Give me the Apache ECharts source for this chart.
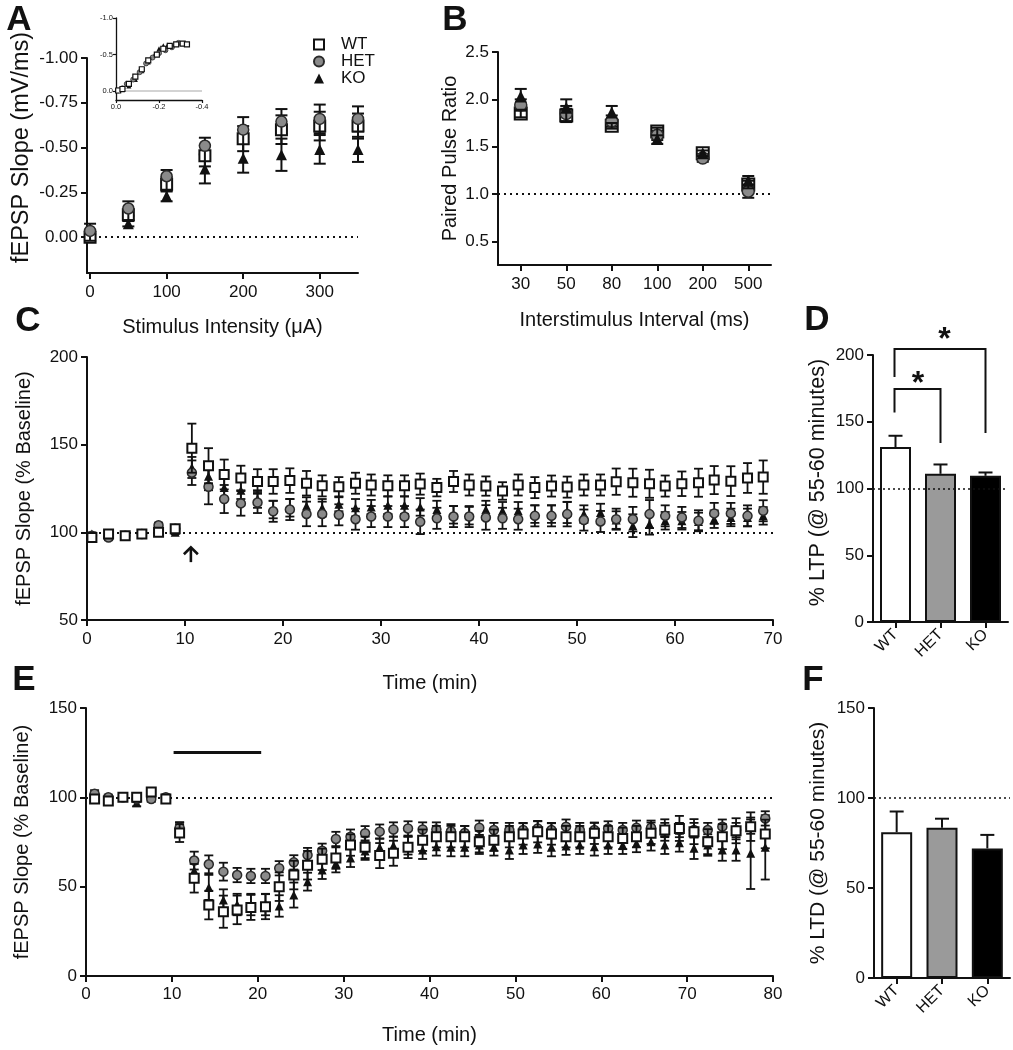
<!DOCTYPE html>
<html><head><meta charset="utf-8">
<script src="https://cdn.jsdelivr.net/npm/echarts@6/dist/echarts.min.js"></script>
<style>html,body{margin:0;padding:0;background:#fff}#c{width:1013px;height:1050px}</style>
</head><body><div id="c"></div>
<script>
// ---------- Panel A: input-output ----------
const stimA = [0, 50, 100, 150, 200, 250, 300, 350];
const wtA = [0.00, -0.125, -0.295, -0.455, -0.55, -0.60, -0.62, -0.62];
const wtAsem = [0.02, 0.03, 0.04, 0.06, 0.07, 0.08, 0.08, 0.07];
const hetA = [-0.035, -0.16, -0.34, -0.51, -0.60, -0.645, -0.66, -0.66];
const hetAsem = [0.04, 0.04, 0.035, 0.045, 0.07, 0.07, 0.08, 0.07];
const koA = [0.0, -0.075, -0.23, -0.38, -0.44, -0.46, -0.49, -0.49];
const koAsem = [0.02, 0.015, 0.03, 0.08, 0.08, 0.09, 0.08, 0.07];
const yTicksA = [-1.00, -0.75, -0.50, -0.25, 0.00];
const xTicksA = [0, 100, 200, 300];
// inset (fibre volley vs fEPSP slope)
const insetWtX = [-0.01, -0.03, -0.06, -0.09, -0.12, -0.15, -0.19, -0.22, -0.25, -0.28, -0.31, -0.33];
const insetWtY = [-0.01, -0.03, -0.10, -0.20, -0.30, -0.42, -0.50, -0.58, -0.62, -0.64, -0.65, -0.64];
const insetHetX = [-0.01, -0.03, -0.05, -0.08, -0.11, -0.14, -0.17, -0.20, -0.23, -0.26, -0.29];
const insetHetY = [-0.01, -0.04, -0.10, -0.16, -0.26, -0.38, -0.46, -0.52, -0.56, -0.60, -0.66];
const insetKoX = [-0.01, -0.03, -0.06, -0.09, -0.12, -0.15, -0.18, -0.20, -0.22, -0.24];
const insetKoY = [-0.01, -0.02, -0.07, -0.16, -0.28, -0.40, -0.50, -0.58, -0.62, -0.63];
const insetXTicks = [0, -0.2, -0.4];
const insetYTicks = [-1.0, -0.5, 0.0];

// ---------- Panel B: paired pulse ratio ----------
const isiB = ['30', '50', '80', '100', '200', '500'];
const wtB = [1.85, 1.83, 1.72, 1.66, 1.43, 1.10];
const wtBsem = [0.04, 0.07, 0.03, 0.04, 0.03, 0.04];
const hetB = [1.94, 1.85, 1.77, 1.62, 1.38, 1.03];
const hetBsem = [0.06, 0.08, 0.06, 0.05, 0.04, 0.07];
const koB = [2.03, 1.91, 1.86, 1.58, 1.43, 1.14];
const koBsem = [0.08, 0.09, 0.07, 0.05, 0.03, 0.05];
const yTicksB = [0.5, 1.0, 1.5, 2.0, 2.5];

// ---------- Panel C: LTP time course ----------
const tC = [0.5, 2.2, 3.9, 5.6, 7.3, 9.0, 10.7, 12.4, 14.0, 15.7, 17.4, 19.0, 20.7, 22.4, 24.0, 25.7, 27.4, 29.0,
  30.7, 32.4, 34.0, 35.7, 37.4, 39.0, 40.7, 42.4, 44.0, 45.7, 47.4, 49.0, 50.7, 52.4, 54.0, 55.7, 57.4, 59.0,
  60.7, 62.4, 64.0, 65.7, 67.4, 69.0];
const wtC = [97, 99, 98, 99, 100, 102, 148, 138, 133, 131, 129, 129, 129.5, 128, 126.5, 126, 128, 127,
  126.5, 126.5, 127.5, 125.5, 129, 127, 126.4, 123.6, 127, 125.5, 126.4, 125.8, 127, 127, 128.9, 128.3, 127.7, 126.4,
  127.7, 128.3, 129.8, 129.2, 131, 131.5];
const wtCsem = [1.5, 1, 1, 1, 1.5, 1.5, 14, 10, 8.5, 7, 7, 7, 7, 7, 6, 5.5, 6, 6,
  6, 6, 6, 5, 6, 6, 5.5, 5, 6, 6, 6, 6, 6, 6, 7.5, 8, 8, 6,
  7, 8, 8, 8.5, 8.5, 9.5];
const hetC = [98, 97, 98, 99, 104, 102, 134, 126, 119, 116.5, 117, 112, 113, 110.5, 110.5, 110, 107.5, 109,
  109, 109, 106, 108, 109, 109, 108.5, 108, 107.5, 109.4, 109.4, 110.4, 107, 106.2, 107.5, 107.5, 110.4, 109.4,
  108.5, 106.6, 110.8, 110.8, 109.4, 112.3];
const hetCsem = [1, 1.5, 1, 1, 1.5, 1, 7, 10, 8, 7, 6, 6, 6, 7, 7, 6, 6, 6,
  6, 6, 7, 6, 6, 6, 7, 6, 6, 6, 6, 7, 6, 6, 6, 7, 8, 6,
  6, 6, 6, 6, 6, 6];
const koC = [99, 99, 98, 99, 100, 100, 137, 132, 125.5, 124, 119, 113, 114, 115, 114, 116, 114, 114.5,
  115.5, 115.5, 114.5, 113, 110, 109.5, 113, 112.3, 112.3, 110.4, 110.4, 111.3, 110.4, 111.3, 107, 103.8, 104.7, 106.6,
  106.6, 106.2, 107.5, 108.5, 108.5, 109.4];
const koCsem = [1, 1, 1, 1, 1, 1, 6, 8, 6, 5, 5, 5, 5, 5, 5, 4, 5, 4,
  5, 5, 5, 5, 5, 5, 5, 5, 5, 5, 5, 6, 5, 5, 5, 6.5, 6, 5,
  5, 5, 5, 5, 5, 5];
const arrowC = [[10.6, 83, 91.5]]; // tetanus arrow: time, tail, tip

// ---------- Panel D: % LTP ----------
const genotypes = ['WT', 'HET', 'KO'];
const ltpD = [131, 111, 109.5];
const ltpDsem = [8.5, 7, 2.5];
// significance brackets: [cat1, cat2, leftLegEnd, top, rightLegEnd, starY]
const sigBrackets = [[0, 1, 157, 174.5, 134, 178], [0, 2, 183.5, 204.5, 141.6, 211]];

// ---------- Panel E: LTD time course ----------
const tE = [1.0, 2.6, 4.3, 5.9, 7.6, 9.3, 10.9, 12.6, 14.3, 16.0, 17.6, 19.2, 20.9, 22.5, 24.2, 25.8, 27.5, 29.1,
  30.8, 32.5, 34.2, 35.8, 37.5, 39.2, 40.8, 42.5, 44.1, 45.8, 47.5, 49.3, 50.9, 52.6, 54.2, 55.9, 57.5, 59.2,
  60.8, 62.5, 64.1, 65.8, 67.4, 69.1, 70.8, 72.4, 74.1, 75.7, 77.4, 79.1];
const wtE = [99, 98, 100, 100, 103, 99, 80, 54.7, 39.7, 36, 37, 38.4, 38.8, 50, 56.5, 62, 65.3, 66,
  73.3, 72, 67.4, 68.7, 72, 76, 78, 78, 78, 75.2, 76, 78, 79.5, 80.8, 79.5, 78, 78, 79.9,
  78, 77, 78, 79.9, 81.7, 82.6, 80.8, 75.2, 78, 81.3, 83.6, 79.5];
const wtEsem = [2, 2, 1.5, 1.5, 2, 2, 5, 8, 8, 9, 8, 7, 7, 8, 8, 8, 6, 6,
  6, 6, 7, 7, 6, 6, 6, 6, 6, 6, 6, 6, 6, 6, 6, 6, 6, 6,
  6, 6, 6, 6, 6, 7, 7, 7, 7, 7, 8, 8];
const hetE = [102, 100, 100, 99, 99, 100, 83, 64.6, 62.5, 58.4, 56.5, 56, 56, 60.3, 63.6, 67.7, 70.1, 76.7,
  78, 79.9, 80.8, 82, 82.6, 82, 82, 81, 80, 83, 81.7, 81.7, 81.7, 82.6, 81.7, 83.6, 81.7, 81.7,
  82.6, 81.7, 83, 83, 81.7, 81.7, 81.7, 81.7, 83.6, 81.7, 83.6, 88.2];
const hetEsem = [2, 1.5, 1.5, 1.5, 1.5, 1.5, 3, 5, 5, 5, 4, 4, 4, 4, 4, 4, 4, 4,
  4, 4, 4, 4, 4, 4, 4, 4, 4, 4, 4, 4, 4, 4, 4, 4, 4, 4,
  4, 4, 4, 4, 4, 4, 4, 4, 4, 4, 4, 4];
const koE = [100, 99, 100, 97, 100, 100, 83, 59, 49.6, 42.5, 40, 40, 40, 39.2, 45.3, 52.8, 59.3, 63,
  66, 70, 72, 73, 73, 70.5, 72.4, 72, 72, 73.3, 72.4, 70.5, 73.3, 73.9, 72, 72.8, 73.3, 72.4,
  73.3, 73.3, 74.3, 75.2, 73.3, 74.6, 71.5, 73.3, 70.5, 70.5, 68.7, 72];
const koEsem = [1.5, 1.5, 1.5, 2, 1.5, 1.5, 3, 6, 7, 6, 6, 6, 6, 6, 7, 5, 5, 5,
  5, 5, 5, 5, 5, 5, 5, 5, 5, 5, 5, 5, 5, 5, 5, 5, 5, 5,
  5, 5, 5, 5, 5, 5, 6, 6, 6, 6, 20, 18];
const stimBarE = [[10.2, 125], [20.4, 125]]; // LFS bar

// ---------- Panel F: % LTD ----------
const ltdF = [81, 83.5, 72];
const ltdFsem = [11.5, 5, 7.5];

// ================= rendering =================
const FONT = '"Liberation Sans", Arial, Helvetica, sans-serif';
const INK = '#111';
const TICK = 17, TITLE = 20;

function ax(gi, o, lab, tick, nameGap, nameSize, namePad) {
  const a = Object.assign({
    gridIndex: gi,
    axisLine: { show: true, onZero: false, lineStyle: { color: INK, width: 2 } },
    splitLine: { show: false },
    nameLocation: 'middle', nameGap: nameGap || 40,
    nameTextStyle: { color: INK, fontSize: nameSize || TITLE, fontFamily: FONT, padding: namePad || 0 }
  }, o);
  a.axisLabel = Object.assign({ color: INK, fontSize: TICK, fontFamily: FONT, margin: 9 }, lab || {});
  a.axisTick = Object.assign({ show: true, length: 6, lineStyle: { color: INK, width: 2 } }, tick || {});
  return a;
}

const STY = {
  WT: { symbol: 'rect', itemStyle: { color: '#ffffff', borderColor: INK, borderWidth: 2, opacity: 1 } },
  HET: { symbol: 'circle', itemStyle: { color: '#8a8a8a', borderColor: '#2a2a2a', borderWidth: 1.5, opacity: 1 } },
  KO: { symbol: 'triangle', itemStyle: { color: INK, opacity: 1 } }
};
const ZB = { KO: 2, HET: 4, WT: 6 };

function pts(gi, name, kind, data, size, z) {
  return Object.assign({
    type: 'scatter', name, xAxisIndex: gi, yAxisIndex: gi, data, symbolSize: size,
    z: z != null ? z : ZB[kind] + 1, silent: true
  }, JSON.parse(JSON.stringify(STY[kind])));
}
function errs(gi, kind, data, capW, lw, upOnly) {
  return {
    type: 'custom', xAxisIndex: gi, yAxisIndex: gi, data, z: upOnly ? 5 : ZB[kind], silent: true,
    encode: { x: 0, y: 1 },
    renderItem(params, api) {
      const x = api.value(0), y = api.value(1), e = api.value(2);
      const a = api.coord([x, y + e]);
      const b = api.coord(upOnly ? [x, y] : [x, y - e]);
      const st = { stroke: INK, lineWidth: lw };
      const ch = [
        { type: 'line', shape: { x1: a[0], y1: a[1], x2: b[0], y2: b[1] }, style: st },
        { type: 'line', shape: { x1: a[0] - capW / 2, y1: a[1], x2: a[0] + capW / 2, y2: a[1] }, style: st }
      ];
      if (!upOnly) ch.push({ type: 'line', shape: { x1: b[0] - capW / 2, y1: b[1], x2: b[0] + capW / 2, y2: b[1] }, style: st });
      return { type: 'group', children: ch };
    }
  };
}
function zip(xs, ys, es) { return xs.map((x, i) => es ? [x, ys[i], es[i]] : [x, ys[i]]); }
function idx(ys, es) { return ys.map((y, i) => es ? [i, y, es[i]] : [i, y]); }
function refLine(gi, val, extra) {
  return {
    type: 'scatter', xAxisIndex: gi, yAxisIndex: gi, data: [], z: 1, silent: true,
    markLine: Object.assign({
      silent: true, symbol: ['none', 'none'], label: { show: false }, animation: false,
      lineStyle: { type: [2, 4], color: INK, width: 2 },
      data: [{ yAxis: val }]
    }, extra || {})
  };
}

const grids = [
  { left: 87, top: 58, width: 271, height: 215 },   // A
  { left: 116, top: 18, width: 86, height: 82 },    // inset
  { left: 498, top: 52, width: 273, height: 213 },  // B
  { left: 87, top: 357, width: 686, height: 263 },  // C
  { left: 873, top: 355, width: 135, height: 267 }, // D
  { left: 86, top: 708, width: 687, height: 268 },  // E
  { left: 874, top: 708, width: 136, height: 270 }  // F
];

const xAxes = [
  ax(0, { type: 'value', min: -4, max: 350, name: 'Stimulus Intensity (μA)' },
    { customValues: xTicksA, margin: 11 }, { customValues: xTicksA }, 44),
  ax(1, { type: 'value', min: -0.4, max: 0, inverse: true, axisLine: { show: true, onZero: false, lineStyle: { color: INK, width: 1.3 } } },
    { customValues: insetXTicks, fontSize: 7.5, margin: 3, formatter: v => v.toFixed(1) },
    { customValues: insetXTicks, length: 3, lineStyle: { color: INK, width: 1.2 } }),
  ax(2, { type: 'category', data: isiB, boundaryGap: true, name: 'Interstimulus Interval (ms)' },
    { margin: 11 }, { alignWithLabel: true }, 45),
  ax(3, { type: 'value', min: 0, max: 70, interval: 10, name: 'Time (min)' }, { margin: 11 }, {}, 53),
  ax(4, { type: 'category', data: genotypes, boundaryGap: true }, { rotate: 45, margin: 10, fontSize: 16 }, { alignWithLabel: true }),
  ax(5, { type: 'value', min: 0, max: 80, interval: 10, name: 'Time (min)' }, { margin: 10 }, {}, 49),
  ax(6, { type: 'category', data: genotypes, boundaryGap: true }, { rotate: 45, margin: 10, fontSize: 16 }, { alignWithLabel: true })
];
const yAxes = [
  ax(0, { type: 'value', min: -1, max: 0.2, inverse: true, name: 'fEPSP Slope (mV/ms)' },
    { customValues: yTicksA, formatter: v => v.toFixed(2) }, { customValues: yTicksA }, 53, 23.5, [0, 0, 0, 36]),
  ax(1, { type: 'value', min: -1, max: 0.12, inverse: true, axisLine: { show: true, onZero: false, lineStyle: { color: INK, width: 1.3 } } },
    { customValues: insetYTicks, fontSize: 7.5, margin: 3, formatter: v => v.toFixed(1) },
    { customValues: insetYTicks, length: 3, lineStyle: { color: INK, width: 1.2 } }),
  ax(2, { type: 'value', min: 0.25, max: 2.5, name: 'Paired Pulse Ratio' },
    { customValues: yTicksB, formatter: v => v.toFixed(1) }, { customValues: yTicksB }, 38),
  ax(3, { type: 'value', min: 50, max: 200, interval: 50, name: 'fEPSP Slope (% Baseline)' }, {}, {}, 53),
  ax(4, { type: 'value', min: 0, max: 200, interval: 50, name: '% LTP (@ 55-60 minutes)' }, {}, {}, 44, 21.5, [0, 0, 0, 12]),
  ax(5, { type: 'value', min: 0, max: 150, interval: 50, name: 'fEPSP Slope (% Baseline)' }, {}, {}, 54),
  ax(6, { type: 'value', min: 0, max: 150, interval: 50, name: '% LTD (@ 55-60 minutes)' }, {}, {}, 45, 21)
];

const series = [];
// A (named series first -> legend)
series.push(pts(0, 'WT', 'WT', zip(stimA, wtA), 11, 5));
series.push(pts(0, 'HET', 'HET', zip(stimA, hetA), 11, 7));
series.push(pts(0, 'KO', 'KO', zip(stimA, koA), 11, 3));
series.push(errs(0, 'KO', zip(stimA, koA, koAsem), 12, 2));
series.push(errs(0, 'WT', zip(stimA, wtA, wtAsem), 12, 2));
series.push(errs(0, 'HET', zip(stimA, hetA, hetAsem), 12, 2));
series.push(refLine(0, 0));
// inset
const insetKO = pts(1, 'KO-i', 'KO', zip(insetKoX, insetKoY), 5);
const insetHET = pts(1, 'HET-i', 'HET', zip(insetHetX, insetHetY), 5); insetHET.itemStyle.borderWidth = 0.8;
const insetWT = pts(1, 'WT-i', 'WT', zip(insetWtX, insetWtY), 5); insetWT.itemStyle.borderWidth = 1.2;
series.push(insetKO, insetHET, insetWT);
series.push(refLine(1, 0, { lineStyle: { type: 'solid', color: '#c4c4c4', width: 1.5 } }));
// B
series.push(errs(2, 'WT', idx(wtB, wtBsem), 12, 2));
series.push(errs(2, 'HET', idx(hetB, hetBsem), 12, 2));
series.push(errs(2, 'KO', idx(koB, koBsem), 12, 2));
series.push(pts(2, 'WT-B', 'WT', idx(wtB), 12, 3));
series.push(pts(2, 'HET-B', 'HET', idx(hetB), 12, 5));
series.push(pts(2, 'KO-B', 'KO', idx(koB), 12, 7));
series.push(refLine(2, 1.0));
// C
series.push(errs(3, 'KO', zip(tC, koC, koCsem), 9, 1.8));
series.push(pts(3, 'KO-C', 'KO', zip(tC, koC), 9));
series.push(errs(3, 'HET', zip(tC, hetC, hetCsem), 9, 1.8));
series.push(pts(3, 'HET-C', 'HET', zip(tC, hetC), 9));
series.push(errs(3, 'WT', zip(tC, wtC, wtCsem), 9, 1.8));
series.push(pts(3, 'WT-C', 'WT', zip(tC, wtC), 9));
series.push(refLine(3, 100));
series.push({
  type: 'custom', xAxisIndex: 3, yAxisIndex: 3, data: arrowC, silent: true, z: 8,
  renderItem(p, api) {
    const b = api.coord([api.value(0), api.value(1)]), t = api.coord([api.value(0), api.value(2)]);
    const st = { stroke: INK, lineWidth: 2.6, fill: null };
    return { type: 'group', children: [
      { type: 'line', shape: { x1: b[0], y1: b[1], x2: t[0], y2: t[1] + 1 }, style: st },
      { type: 'polyline', shape: { points: [[t[0] - 7, t[1] + 7], [t[0], t[1]], [t[0] + 7, t[1] + 7]] }, style: st }
    ] };
  }
});
// D
series.push(refLine(4, 100, { lineStyle: { type: [2, 3], color: INK, width: 1.5 } }));
series.push({
  type: 'bar', xAxisIndex: 4, yAxisIndex: 4, barWidth: 31, z: 3, silent: true,
  data: ltpD.map((v, i) => ({ value: v, itemStyle: { color: ['#ffffff', '#9a9a9a', '#000000'][i] } })),
  itemStyle: { borderColor: INK, borderWidth: 2 }
});
series.push(errs(4, 'WT', idx(ltpD, ltpDsem), 14, 2, true));
series.push({
  type: 'custom', xAxisIndex: 4, yAxisIndex: 4, data: sigBrackets, silent: true, z: 8, clip: false,
  renderItem(p, api) {
    const c1 = api.value(0), c2 = api.value(1);
    const p1 = api.coord([c1, api.value(2)]), p2 = api.coord([c1, api.value(3)]);
    const p3 = api.coord([c2, api.value(3)]), p4 = api.coord([c2, api.value(4)]);
    const s = api.coord([c1, api.value(5)]);
    const mid = (p2[0] + p3[0]) / 2 + (c2 - c1 > 1 ? 4 : 0);
    return { type: 'group', children: [
      { type: 'polyline', shape: { points: [[p1[0] - 1, p1[1]], [p2[0] - 1, p2[1]], [p3[0], p3[1]], p4] }, style: { stroke: INK, lineWidth: 2, fill: null } },
      { type: 'text', x: mid, y: s[1], style: { text: '*', font: 'bold 32px ' + FONT, fill: INK, align: 'center', verticalAlign: 'middle' } }
    ] };
  }
});
// E
series.push(errs(5, 'KO', zip(tE, koE, koEsem), 9, 1.8));
series.push(pts(5, 'KO-E', 'KO', zip(tE, koE), 9));
series.push(errs(5, 'HET', zip(tE, hetE, hetEsem), 9, 1.8));
series.push(pts(5, 'HET-E', 'HET', zip(tE, hetE), 9));
series.push(errs(5, 'WT', zip(tE, wtE, wtEsem), 9, 1.8));
series.push(pts(5, 'WT-E', 'WT', zip(tE, wtE), 9));
series.push(refLine(5, 100));
series.push(refLine(5, 0, {
  lineStyle: { type: 'solid', color: INK, width: 3 },
  data: [[{ coord: stimBarE[0] }, { coord: stimBarE[1] }]]
}));
// F
series.push(refLine(6, 100, { lineStyle: { type: [2, 3], color: INK, width: 1.5 } }));
series.push({
  type: 'bar', xAxisIndex: 6, yAxisIndex: 6, barWidth: 31, z: 3, silent: true,
  data: ltdF.map((v, i) => ({ value: v, itemStyle: { color: ['#ffffff', '#9a9a9a', '#000000'][i] } })),
  itemStyle: { borderColor: INK, borderWidth: 2 }
});
series.push(errs(6, 'WT', idx(ltdF, ltdFsem), 14, 2, true));

function letter(t, x, y) {
  return { type: 'text', x, y, style: { text: t, font: 'bold 35px ' + FONT, fill: INK, align: 'center', verticalAlign: 'middle' } };
}

const chart = echarts.init(document.getElementById('c'), null, { renderer: 'canvas' });
chart.setOption({
  backgroundColor: '#ffffff',
  animation: false,
  grid: grids,
  xAxis: xAxes,
  yAxis: yAxes,
  legend: {
    data: ['WT', 'HET', 'KO'], orient: 'vertical', left: 308, top: 31, selectedMode: false,
    itemWidth: 10, itemHeight: 10, itemGap: 0,
    textStyle: { fontSize: 17, fontFamily: FONT, color: INK, padding: [0, 0, 0, 12] }
  },
  graphic: [letter('A', 19, 20), letter('B', 455, 20), letter('C', 28, 321), letter('D', 817, 320), letter('E', 24, 680), letter('F', 813, 680)],
  series
});
</script></body></html>
